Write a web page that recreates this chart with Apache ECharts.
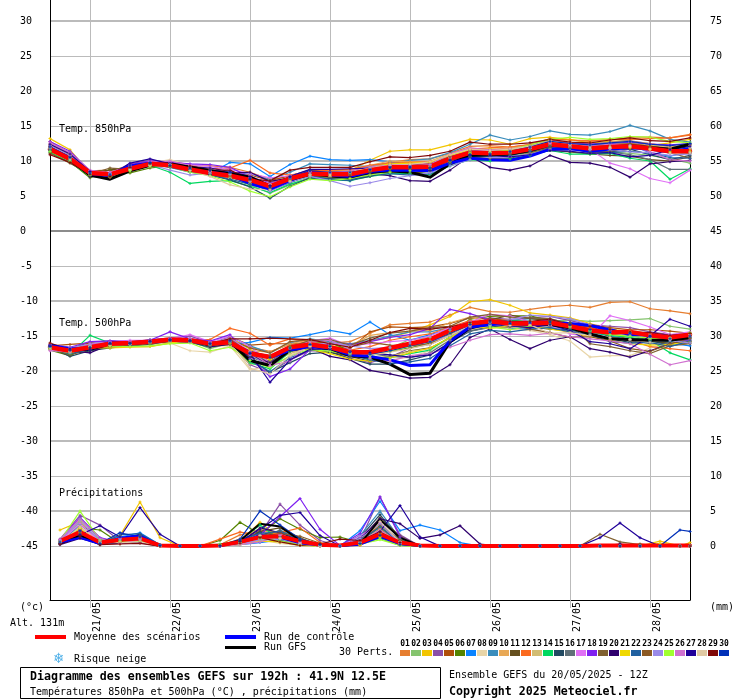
<!DOCTYPE html>
<html>
<head>
<meta charset="utf-8">
<title>Diagramme des ensembles GEFS</title>
<script src="https://cdn.jsdelivr.net/npm/echarts@6/dist/echarts.min.js"></script>
<style>
  body { margin: 0; background: #fff; }
  #main { width: 740px; height: 700px; }
</style>
</head>
<body>
<div id="main"></div>
<script>
// hours after 20/05 12Z
const hours = [0,6,12,18,24,30,36,42,48,54,60,66,72,78,84,90,96,102,108,114,120,126,132,138,144,150,156,162,168,174,180,186,192];
const precipHours = [3,9,15,21,27,33,39,45,51,57,63,69,75,81,87,93,99,105,111,117,123,129,135,141,147,153,159,165,171,177,183,189,192];
const dayTicks = [12,36,60,84,108,132,156,180];
const dayLabels = ['21/05','22/05','23/05','24/05','25/05','26/05','27/05','28/05'];
const leftTicks = [-45,-40,-35,-30,-25,-20,-15,-10,-5,0,5,10,15,20,25,30];
const rightTicks = [0,5,10,15,20,25,30,35,40,45,50,55,60,65,70,75];
const heavyTicks = [-40,-30,-20,-10,0,10,20,30];
const memberColors = ['#e67e30','#85c46e','#f2c500','#8b4fa8','#b04f0a','#558400','#0a84ff','#e8d5a8','#3a8dbc','#e8a855','#654f1e','#fb6a1f','#d2bc73','#00d85f','#224a62','#607078','#e070f5','#7f20f0','#806030','#2f006e','#f0d800','#2060a0','#8c5a24','#9a8ae8','#a0ff30','#d070d0','#20009a','#e0c9a3','#800808','#0030b8'];
const memberLabels = ['01','02','03','04','05','06','07','08','09','10','11','12','13','14','15','16','17','18','19','20','21','22','23','24','25','26','27','28','29','30'];

const mean850 = [11.7,10.3,8.3,8.1,8.9,9.6,9.4,8.8,8.3,7.9,7.3,6.4,7.5,8.2,8.1,8.1,8.7,9.1,9.1,9.2,10.3,11.2,11.1,11.2,11.7,12.4,12.1,11.8,12,12.1,11.8,11.4,11.4];
const control850 = [11.8,10.4,8.2,7.9,9.3,9.7,9.3,8.7,8.4,8,6.8,6,7.2,8.4,8,7.8,8.5,8.7,8.7,8.6,9.7,10.4,10.2,10.1,10.7,11.7,11.8,11.4,11.7,11.9,11.7,11.3,11.8];
const gfs850 = [11.8,10.2,8,7.4,8.6,9.4,9.6,9.1,8.6,8.2,7.7,6.4,7.3,8.1,7.9,7.7,8.4,8.6,8.4,7.7,9.6,10.8,10.9,11,11.5,12.3,12,11.6,12,12.2,11.9,11.7,12.4];
const t850Members = [
  [12.8,11.1,8.5,8.1,9.4,9.8,9.7,9.3,9.3,9.1,8.4,7.4,7.8,8.5,8.4,8.6,9.3,9.8,10.2,10.3,11.1,12.1,12.2,12,12.3,13.2,13,12.9,13,13.4,13.4,13.3,13.8],
  [11.8,10.4,8.1,7.9,8.8,9.4,9.5,9,8.6,7.6,6.6,5.4,6.6,7.7,7.6,7.4,8.1,8.5,8.3,8.5,9.7,10.6,10.4,10.7,11.1,11.8,11.3,11,11.3,11.1,10.8,10.3,9.7],
  [13.2,11.6,8.3,7.8,9.1,9.5,9.7,8.9,8.1,7.7,7.5,7,7.6,8,8.3,8.6,10.1,11.4,11.6,11.6,12.3,13.1,13,12.4,13.2,13.4,13.1,12.6,12.8,12.9,12.2,12.6,13.1],
  [12.3,10.8,8.4,8.2,9.6,10.1,9.9,9.2,8.5,8.5,7.4,5.9,7.3,8,7.8,8.1,8.9,9.7,9,9.6,10.7,11.6,11.5,11.8,12.1,13,12.6,12.4,12.7,12.9,12.5,12,12.3],
  [12,10.7,8.6,8.7,9,9.6,9.6,9.1,8.4,8.3,8,7.2,7.9,8.7,8.5,8.5,8.8,9.5,9.5,9.7,10.5,11.4,11.2,11.4,12.1,12.7,12.3,11.9,12.3,12.4,12.3,11.7,11.6],
  [11.2,9.9,7.6,8.8,8.3,9,9.3,8.7,8,7.6,6.7,6.2,7.3,8.1,7.9,8,8.4,8.8,8.9,9,10,11,10.9,11,11.6,12.2,12.3,12.3,12.4,12.3,12,11.4,11],
  [11.6,10.1,8.2,8,9.2,9.6,9.4,8.8,8.2,9.8,9.6,7.8,9.5,10.7,10.2,10.1,10.2,9.9,9.3,9.5,10.6,11.4,11.6,11.4,11.8,12.4,12.1,12.1,11.9,12.3,11.2,10.7,11.3],
  [11.9,10.5,8,8.2,8.6,9.7,10.2,9.4,8.5,7.5,6.8,6.2,7,8,8.2,8.4,8.8,9.1,9.2,9.3,10.5,11.3,11.2,11.3,11.8,12.3,11.9,11.6,11.8,12,11.7,11.6,11.9],
  [11.4,10,8.3,8.2,8.9,9.7,9.3,8.8,8.3,8.3,8.2,7.3,8.4,9.6,9.5,9.4,9.2,9.6,10.1,10.3,11.2,12.4,13.7,13,13.5,14.3,13.8,13.7,14.2,15.1,14.3,13.1,12.7],
  [12.1,10.6,8.3,8.2,9.1,9.6,9.4,8.9,8.6,8.1,7.6,7,7.7,8.4,8.6,8.7,9.4,10,9.9,10,11,11.8,11.7,11.8,12.2,12.8,12.6,12.2,12.7,12.8,12.5,12.1,12.2],
  [11.7,10.3,8.3,8.7,9.2,9.3,9.3,8.6,8.1,7.7,6.9,6.3,7.2,7.9,7.7,7.6,7.9,8.4,8.2,8.6,9.7,10.5,10.4,10.4,11,11.5,11.3,11,10.8,10.7,10.2,10,10.6],
  [12.2,10.8,8.4,8,8.8,9.5,9.3,9.1,8.9,9,10.1,8.3,8,8.5,8.7,8.8,9.4,9.7,9.8,9.9,10.8,11.7,11.9,12,12.4,13.1,13,12.8,13.1,13.1,13.2,13.3,13.7],
  [11.8,10.2,8.1,7.9,8.7,9.3,9.2,8.6,8.2,7.7,7.1,6.7,7.4,8,7.8,8,8.6,9,9.1,9.3,10.4,11.1,11.2,11.6,11.9,12.6,12.4,12.2,12.4,12.6,12.3,11.9,11.8],
  [11.3,9.8,7.9,7.8,8.7,9.4,8.4,6.8,7.1,7.2,6.4,5.5,6.7,7.5,7.3,7.2,7.8,8.2,8.2,8.1,9.3,10.2,10,10.3,10.8,11.5,11,11,11.1,10.4,10,7.4,8.9],
  [11.5,10.1,8.2,8.3,9.1,9.5,9.2,8.5,8,7.3,6.3,4.7,6.4,7.6,7.5,7.3,7.8,8.5,8.6,8.7,9.8,10.8,10.7,10.9,11.3,12,11.8,11.4,11.3,11.7,10.9,10.2,10.8],
  [11.9,10.6,8.4,8.3,9,9.8,9.7,9.2,8.7,8.2,7.4,6.6,7.5,8.3,8.3,8.2,8.8,9.2,9,9.4,10.2,11,10.9,11.1,11.5,12.3,12,11.8,11.3,10.9,10.2,8.8,8.8],
  [12.5,11,8.6,8.4,9.3,10,9.9,9.5,9.2,8.8,8.2,7.6,7.9,8.5,8.4,8.4,9.1,9.5,9.6,9.7,10.7,11.7,11.4,11.2,11.8,12.6,12.1,11.7,9.7,8.9,7.5,6.9,8.7],
  [12.8,11.4,8.6,8.1,9.5,10,9.8,9.6,9.5,9.1,7.7,6.9,7.4,8.4,8.1,8,8.8,9.4,9.4,9.5,10.6,11.6,11.3,11.6,12.2,12.8,12.5,12.4,12.5,12.7,12.4,12.3,12.5],
  [11.1,9.7,8.1,9,8.8,9.7,9.5,8.9,8.4,8.1,7.3,6,7.1,8.2,8.1,8,8.5,8.9,8.9,9,9.9,11,10.8,11,11.2,11.9,11.8,11.2,11.4,11.7,11.9,11.2,10.4],
  [12.1,10.7,7.8,7.6,9.1,9.8,9.6,8.8,8.1,8.3,8.4,7.1,7.6,8.3,8,7.8,8.2,7.9,7.2,7.1,8.7,10.7,9.1,8.7,9.3,10.8,9.8,9.7,9.1,7.7,9.6,9.9,10.1],
  [12.4,10.9,8.2,7.7,8.8,9.4,9.5,9.1,8.7,8,7,6.7,7.2,7.8,8,8.3,9.1,9.6,9.7,9.8,10.8,11.6,11.7,11.5,12.1,12.8,12.2,11.7,11.9,11.9,11.6,11.3,11.4],
  [11.7,10.2,8.1,8,8.8,9.6,9.1,8.4,8,7.4,6.7,5.8,6.9,7.9,7.4,7.2,8,8.2,8,8.2,9.5,10.6,10.7,10.8,11.4,12.1,11.7,11.4,11.2,11.4,11.1,10.5,10.4],
  [12,10.4,8.4,8,8.9,9.7,9.6,9,8.3,7.9,7.2,6.1,7.4,8.4,8.2,8,8.6,9.3,9.3,9.6,10.6,11.3,11.4,11.2,11.7,12.3,12.2,12.1,12.3,12.5,12.1,11.8,11.1],
  [12.2,10.8,8.3,8.1,9,9.5,8.7,8,8.3,8.1,7.1,5.7,7,7.8,7.2,6.4,6.9,7.5,7.9,8.3,9.3,10.2,10.5,10.6,11,11.6,11.5,11.6,11.7,11.3,11.2,10.8,11],
  [11.4,10,8,7.8,8.6,9.3,9.2,8.4,7.9,7,5.7,4.9,6.3,7.4,7.2,7.5,8,8.4,8.6,8.8,10,11.1,11.3,11.6,12.3,13.1,13.4,13.1,13.2,13.5,13.4,12.8,12.6],
  [12.6,11.2,8.7,8.2,9.3,9.9,10,9.4,8.6,8.5,7.9,6.7,7.6,8.3,8.3,8.6,9.2,9.4,9.3,9.5,11,11.9,11.6,11.7,12,12.5,12.3,12.2,12.4,12.2,11.3,10.2,10],
  [12.4,11,8.5,7.9,9.7,10.3,9.6,9.2,9,8.5,7.8,6.5,7.8,8.8,8.8,8.9,9,9.1,9.1,8.7,10.1,10.9,10.8,10.6,10.9,11.5,11.4,11.1,11.2,10.6,10.8,11.6,12.1],
  [11.9,10.3,8.2,8.1,8.8,9.4,9.5,8.7,7.8,6.6,6,5.9,7.1,8,8,8.4,9,9.4,9.5,9.9,10.9,11.7,11.5,11.7,12.1,12.9,12.4,12,12,12.1,11.7,11.1,11.2],
  [10.9,9.8,8.1,7.8,9.1,9.6,9.3,9.3,8.7,8.7,7.4,7.2,8.7,9.1,9.1,9.1,9.9,10.6,10.5,10.8,11.4,12.7,12.4,12.4,12.6,13.1,12.7,12.6,13,13.3,12.9,12.8,13.3],
  [12,10.5,8.3,8.1,9.4,9.8,9.4,9,8.7,8.4,7.5,6.3,7.7,8.6,8.4,8.4,8.8,9.1,9.2,9,10.1,10.9,11,11.4,12,12.8,12.5,12.3,12.6,12.8,12.4,12.2,12.5]
];

const mean500 = [-16.6,-17.1,-16.6,-16.1,-16,-15.8,-15.5,-15.6,-16.1,-15.9,-17.5,-18,-16.6,-16.2,-16.6,-17.3,-17.3,-16.7,-16.1,-15.5,-14.2,-13.2,-12.9,-13.2,-13.2,-13.1,-13.6,-14.2,-14.5,-14.4,-14.9,-15.2,-14.8];
const control500 = [-16.4,-16.8,-16.8,-15.9,-16,-15.7,-15.5,-15.6,-16,-16,-17.3,-18.1,-17,-16.5,-16.7,-17.7,-17.9,-18.4,-19.2,-19.1,-15.7,-13.7,-13.4,-13.1,-13.4,-13.2,-13.2,-13.5,-14.1,-14.8,-14.8,-15.1,-14.8];
const gfs500 = [-16.3,-17,-16.9,-16.1,-16.1,-15.8,-15.6,-15.7,-16.2,-15.8,-18.5,-19.2,-17,-16.4,-16.8,-17.8,-18,-19,-20.5,-20.3,-15.8,-13.8,-13.2,-13.2,-13.3,-13.3,-13.8,-14.7,-15.4,-15.5,-15.6,-15.6,-15.2];
const t500Members = [
  [-16.5,-17.2,-16.6,-16,-16.1,-15.6,-15.4,-15.5,-16,-15.4,-16.6,-17.2,-16.2,-15.8,-16,-15.8,-14.6,-13.4,-13.2,-13,-12,-10.9,-11.5,-11.6,-11.2,-10.8,-10.6,-10.9,-10.2,-10.1,-11.1,-11.4,-11.8],
  [-16.8,-17.4,-16,-16.2,-16.2,-16.1,-15.7,-15.7,-16.8,-16,-17.8,-18.8,-17.2,-16.5,-17,-17.8,-17.7,-16.7,-15.5,-15.2,-14.2,-13.2,-12.8,-13.2,-13,-12.9,-12.7,-12.9,-12.8,-12.7,-12.5,-13.6,-14],
  [-16.7,-17,-16.2,-16.4,-16.3,-16.2,-15.8,-15.5,-16.2,-15.2,-16.9,-18.2,-16.6,-16.1,-16.4,-16.5,-15.7,-15.2,-14.4,-13.4,-12.2,-10.1,-9.8,-10.6,-11.7,-12,-12.4,-13.2,-14,-14.4,-14.9,-15.4,-15.7],
  [-16.2,-16.8,-15.9,-15.7,-15.9,-15.5,-15.3,-15,-15.9,-15.7,-19.1,-20.2,-18.4,-17.1,-17.2,-18.2,-18.8,-18,-16.7,-16.2,-14.9,-13.4,-12.4,-12.6,-12.4,-12.2,-12.8,-13.4,-13.6,-13.8,-14.4,-14.8,-15.1],
  [-16.4,-16.2,-16,-16.3,-16.2,-15.9,-15.7,-15.9,-16.3,-15.1,-16.3,-16.1,-16.1,-16.3,-16.5,-16.8,-14.4,-13.7,-13.8,-13.7,-13.2,-12.4,-12.5,-12.8,-13.1,-13,-13.2,-13.4,-13.8,-14.1,-14.1,-14.3,-14.6],
  [-17,-17.8,-16.4,-16.3,-16.1,-16,-15.8,-15.8,-16.2,-15.8,-18,-18.9,-16.5,-15.8,-15.9,-17.1,-17.6,-17.2,-16.7,-16,-14.7,-12.6,-12.2,-12.1,-12.1,-12.8,-13.4,-13.8,-14.2,-14.5,-15,-15.4,-15.7],
  [-16.6,-17.2,-16.1,-15.9,-16.1,-15.6,-15.5,-15.8,-15.9,-16.2,-15.9,-15.2,-15.3,-14.8,-14.2,-14.7,-13,-14.8,-15.6,-14.8,-14,-13.4,-13.7,-13.9,-14,-13.8,-14.2,-14.4,-15,-15.5,-15.8,-16,-16.4],
  [-16.9,-17.5,-16.6,-16.2,-16.2,-16.1,-16,-17.1,-17.3,-16.4,-19.8,-19.4,-17.4,-16.7,-16.6,-17.6,-18.4,-18.4,-18,-17.1,-15.6,-14,-13.3,-14,-14.2,-14.8,-15.7,-18,-17.8,-17.8,-16.7,-16.1,-15.9],
  [-16.4,-17,-16.4,-16.2,-16.4,-15.9,-15.7,-15.7,-16.1,-15.1,-16.4,-17.4,-16,-15.4,-15.8,-16.1,-15.6,-15,-14.4,-14.4,-13.8,-12.9,-13,-12.8,-12.5,-12.6,-13.1,-14.2,-14.8,-14.9,-15.6,-15.8,-15.2],
  [-16.1,-16.8,-16.7,-16.3,-16.4,-15.8,-15.6,-15.4,-15.8,-15.7,-17.1,-17.3,-16.1,-15.5,-16,-16.4,-14.9,-14.5,-14.3,-14.2,-13.1,-12.3,-13,-13.4,-13.5,-13.4,-13.7,-14.3,-14.5,-14.3,-14.7,-15.3,-14.8],
  [-16.7,-17.6,-17.1,-16.5,-16.1,-15.8,-15.5,-15.6,-16.3,-15.8,-17.8,-18.6,-17.2,-16.8,-17.3,-17.9,-18.6,-17.9,-17.1,-16.7,-15.3,-13.8,-12.7,-12,-12.5,-12.8,-13.1,-14,-15.1,-15.7,-15.8,-16,-16],
  [-16.5,-16.9,-16.4,-16,-16.1,-15.7,-15.6,-15.5,-15.5,-13.9,-14.6,-16.3,-15.4,-15.8,-16.5,-17,-16.5,-15.6,-15.1,-14.7,-13.7,-12.8,-13,-12.9,-13.1,-13.5,-13.4,-13.8,-14.5,-15.6,-16.5,-16.8,-17.1],
  [-16.8,-17.4,-16.4,-16.6,-16.5,-16.5,-15.9,-15.8,-16.5,-16.3,-19,-18.9,-17.5,-16.6,-16.5,-17.3,-18.1,-17.9,-17.2,-16.8,-15.3,-14.1,-13.5,-13.8,-13.5,-13.5,-13.7,-14.8,-15.5,-15.4,-15.5,-15.2,-15.1],
  [-16.9,-17.6,-14.9,-16,-15.9,-15.7,-15.5,-15.7,-16.4,-15.9,-18.8,-19.7,-17.2,-16.2,-16.4,-17.5,-18.3,-18.1,-17.5,-17,-15.1,-13.1,-13.4,-12.8,-12.9,-13.3,-14,-14.4,-14.9,-15.2,-15.6,-17.4,-18.4],
  [-16.6,-17.9,-17.1,-16.7,-16.4,-16.2,-15.7,-15.9,-16.6,-16.1,-18.3,-20.2,-18.8,-17.5,-17.3,-18.2,-19,-19,-18.4,-17.7,-15.9,-14.3,-13.7,-13.4,-13.7,-14,-14.2,-14.6,-15.4,-15.9,-15.7,-16.3,-15.3],
  [-16.3,-16.7,-16.3,-16.2,-16,-15.8,-15.6,-15.5,-16.2,-15.7,-17.6,-18.6,-16.8,-16.4,-16.8,-17.2,-17.5,-17.9,-18.1,-17.4,-15.6,-14.3,-13.8,-13.7,-13.4,-13.6,-13.9,-14.7,-15.3,-15.6,-16.1,-16.2,-15.5],
  [-17.1,-17.2,-16.3,-15.8,-15.6,-15.6,-15.4,-14.8,-15.8,-15,-16.5,-18.9,-16.8,-15.7,-15.3,-16.4,-16.1,-15.8,-15.6,-15,-13.8,-13,-11.9,-12.1,-13,-13.5,-14.7,-15.1,-12.1,-12.8,-13.7,-14.8,-14.4],
  [-16.2,-16.6,-15.8,-15.7,-15.8,-15.6,-14.4,-15.4,-15.7,-14.8,-18.2,-20.8,-19.7,-16.9,-16.1,-16.2,-15.8,-15.2,-14.8,-13.9,-11.2,-11.8,-12.7,-13,-13.2,-12.6,-13.4,-14.1,-14.3,-14.7,-15,-15.5,-15.6],
  [-16.8,-17.7,-16.6,-16.3,-16.4,-16,-15.8,-15.8,-16.1,-15.4,-17.3,-17.8,-16.6,-15.6,-15.5,-16.3,-15.3,-14.6,-14.3,-13.8,-13.6,-12.3,-11.9,-12.3,-12.4,-12.5,-13.3,-16.1,-16.5,-17.1,-17.5,-16.4,-16.1],
  [-16.4,-17.1,-17.4,-16.2,-15.9,-15.7,-15.4,-15.5,-16.5,-16.2,-17.9,-18.8,-17.1,-16.7,-17.9,-18.4,-19.9,-20.4,-21,-20.9,-19.1,-15.2,-14,-15.5,-16.8,-15.6,-15.1,-16.8,-17.3,-18,-17.1,-16.1,-15.8],
  [-16.9,-17.2,-16.7,-16.7,-16.6,-16.5,-16,-15.5,-16.3,-16.1,-17.3,-18.4,-16.7,-16.9,-17.5,-18.3,-18.6,-18.1,-17.4,-16.7,-15.2,-13.6,-13.9,-13.6,-13.5,-14,-14.4,-15.1,-15.6,-16.1,-16.3,-16.2,-15.8],
  [-16.7,-17.5,-16.9,-16.1,-16.3,-15.9,-15.7,-15.8,-16.3,-15.9,-18.4,-20.1,-18.1,-17,-16.9,-17.7,-18.4,-18.9,-18.7,-18.2,-16.4,-14.7,-14.2,-14.4,-14,-13.8,-14.4,-14.8,-15.8,-16,-15.9,-16.5,-15.7],
  [-16.5,-17.3,-16.8,-16.4,-16.2,-16,-15.6,-15.7,-16,-15.5,-16.7,-17.4,-15.8,-15.5,-16,-16.6,-15.9,-16.3,-16.4,-16.1,-14.8,-13.7,-13.1,-13.3,-14,-14.5,-15.2,-15.1,-15.7,-16.8,-17.2,-16.1,-15.3],
  [-16.3,-16.7,-16.2,-16.1,-16,-15.7,-15.6,-15.6,-16,-15.6,-17.7,-19.3,-18,-16.3,-15.9,-16.4,-16.8,-16.6,-16,-15.8,-14.9,-13.7,-13.5,-12.7,-12,-12.2,-12.5,-13.4,-14.2,-14.6,-15.2,-15.6,-16],
  [-16.8,-17.4,-16.5,-16.4,-16.5,-16.4,-16.1,-16,-17.1,-16.6,-18.5,-19.5,-17.8,-16.9,-17.2,-17.5,-17.8,-17.2,-16.4,-15.7,-14.6,-13.2,-13.7,-14.1,-13.6,-13.4,-13.6,-14.2,-14.8,-15,-15.3,-15.4,-14.5],
  [-17,-17.3,-16.1,-15.9,-15.8,-15.7,-15.4,-15.4,-16.1,-15.2,-17.2,-19.2,-18.6,-15.9,-15.6,-16.9,-18.2,-18.6,-17.8,-17.5,-16.6,-15.6,-14.8,-14.7,-14.9,-14.6,-15.1,-15.4,-15.7,-16.1,-17.6,-19.1,-18.5],
  [-16.4,-16.8,-17,-16.1,-16.1,-15.8,-15.5,-15.6,-16.2,-15.6,-17.5,-21.6,-18.4,-16.9,-16.8,-17.2,-17.4,-17.7,-18,-17.7,-16,-14,-13.2,-13.6,-13.8,-13.4,-14.2,-15.8,-16.1,-16.8,-15,-12.6,-13.6],
  [-16.6,-17.1,-16.5,-16.3,-16.2,-15.9,-15.7,-15.9,-16.2,-15.8,-19.6,-20.4,-17.8,-16.5,-16.6,-17.4,-17.7,-17.3,-16.8,-16.2,-14.9,-13.5,-13.1,-13.5,-13.4,-14.6,-14.5,-14.9,-15.2,-15.5,-15.9,-15.5,-14.8],
  [-16,-17,-16.7,-16.1,-16,-15.7,-15.6,-15.7,-16.1,-15.4,-15.4,-15.3,-15.4,-15.5,-16.1,-16.6,-15.6,-14.5,-13.9,-14,-13.7,-13.1,-12.8,-12.9,-12.9,-12.6,-13.4,-13.6,-14.1,-14.4,-14.5,-14.9,-14.6],
  [-16.5,-17,-16.6,-16,-16.1,-15.8,-15.6,-15.7,-16.1,-15.7,-17.4,-18.1,-16.7,-16.2,-16.5,-17.3,-17.6,-17.1,-16.4,-15.8,-14.6,-13.4,-13,-13.2,-13.1,-13,-13.4,-14.1,-14.5,-14.6,-15.1,-15.4,-15]
];

const meanPrecip = [0.7,2,0.5,0.9,1.1,0.1,0,0,0.1,0.6,1.3,1.4,0.7,0.2,0.1,0.5,1.7,0.5,0.1,0,0,0,0,0,0,0,0,0.1,0.1,0.1,0.1,0.1,0.1];
const controlPrecip = [0.5,1.2,0.3,1.2,1.5,0.1,0,0,0,0.5,1.6,1.2,0.4,0.1,0,0.2,1.3,0.3,0,0,0,0,0,0,0,0,0,0,0,0,0,0,0];
const gfsPrecip = [0.4,1.5,0.4,0.8,1.2,0,0,0,0,0.8,3.2,2.8,0.8,0.1,0,0.3,3.8,1.2,0,0,0,0,0,0,0,0,0,0,0,0,0,0,0];
const precipMembers = [
  [0.9,2.8,0.4,0.6,0.5,0,0,0,0.2,1.6,2.2,2,0.6,0.1,0,0.1,2.4,0.5,0,0,0,0,0,0,0,0,0,0,0,0,0,0,0],
  [0.5,3.4,0.6,1.2,1.4,0.1,0,0,0,0.3,0.8,1.2,0.4,0,0,0.5,1.8,0.3,0,0,0,0,0,0,0,0,0,0,0,0,0,0,0],
  [2.3,3.5,0.5,1.5,6.3,1.2,0,0,0,0.6,3.4,1.1,0.3,0,0,0.2,1.4,0.2,0,0,0,0,0,0,0,0,0,0,0,0,0.7,0,0.5],
  [1,4.4,3,0.7,0.9,0,0,0,0,0.4,1.7,6,3,0.8,0,0.8,7,1.6,0,0,0,0,0,0,0,0,0,0,0,0,0,0,0],
  [0.6,2.4,0.8,0.5,1.1,0,0,0,0.1,0.9,1.4,1.9,1,0.3,0,0.6,2.5,0.9,0,0,0,0,0,0,0,0,0,0,0,0,0,0,0],
  [0.4,2.6,2.3,0.4,0.8,0,0,0,0.8,3.4,1.7,3.9,2.4,1.2,1.3,0.5,2.8,0.6,0,0,0,0,0,0,0,0,0,0.1,0,0.2,0,0,0],
  [0.6,2.1,0.5,1.3,1.9,0.2,0,0,0,0.2,0.5,0.9,0.2,0,0,2.2,6.4,2.2,3,2.3,0.5,0,0,0,0,0,0,0,0,0,0,0,0],
  [0.8,2.9,0.7,0.3,0.7,0,0,0,0,0.2,0.9,0.4,0.1,0,0,0.9,2.2,0.2,0,0,0,0,0,0,0,0,0,0,0,0,0,0,0],
  [0.3,3.1,0.9,0.9,1.3,0,0,0,0,0.4,1,2.3,1.1,0.2,0,1.5,5,1,0,0,0,0,0,0,0,0,0,0,0,0,0,0,0],
  [0.7,1.9,0.3,0.6,0.8,0,0,0,0.1,1,2.5,1.5,0.7,0.1,0,0.4,3.3,0.5,0,0,0,0,0,0,0,0,0,0,0,0,0,0,0],
  [0.4,1.5,0.4,0.5,1,0,0,0,0,0.7,2.1,2.6,1.2,0,0,0.7,4.1,1.4,0,0,0,0,0,0,0,0,0,0,0,0,0,0,0],
  [0.5,2.2,0.3,0.7,1.2,0.1,0,0,1,2,1.6,1.9,2.6,0.5,0,0.2,1.9,0.3,0,0,0,0,0,0,0,0,0,0.1,0,0,0,0,0],
  [0.6,3.7,0.6,0.4,0.6,0,0,0,0,0.5,1.5,1.3,0.5,0,0,0.3,2.6,0.7,0,0,0,0,0,0,0,0,0,0,0,0,0,0,0],
  [0.8,4,1,0.8,1,0,0,0,0.3,0.8,3,0.9,0.3,0,0,0.3,1.1,0.1,0,0,0,0,0,0,0,0,0,0,0,0,0,0,0],
  [0.3,1.3,0.2,1,1.7,0.1,0,0,0,0.6,2,1.4,0.6,0.1,0,1.2,4.5,0.8,0,0,0,0,0,0,0,0,0,0,0,0,0,0,0],
  [0.5,2.3,0.5,0.6,0.9,0,0,0,0,0.3,1.2,0.8,0.2,0,0,0.4,2,0.4,0,0,0,0,0,0,0,0,0,0,0,0,0,0,0],
  [0.7,3.2,0.6,1.1,1.2,0,0,0,0,0.4,1,1.7,0.5,0,0,1.4,3.4,0.6,0,0,0,0,0,0,0,0,0,0,0,0,0,0,0],
  [0.9,4.1,1.2,0.5,0.5,0,0,0,0,0.5,1.6,4.2,6.8,2.4,0.1,1.8,7,1.3,0,0,0,0,0,0,0,0,0,0,0,0,0,0,0],
  [0.4,1.8,0.4,0.8,1.4,0,0,0,0,0.7,1.4,2.2,0.9,0.2,0,0.5,3,0.9,0,0,0,0,0,0,0.1,0,0,1.7,0.6,0.2,0,0,0],
  [0.2,1.1,0.3,0.4,0.6,0,0,0,0,0.4,2.6,1.9,0.8,0,0,1,3.9,3.2,1.1,1.6,2.9,0.3,0,0,0,0,0,0,0.3,0,0,0,0],
  [0.6,2.5,0.4,0.7,1.1,0,0,0,0,0.2,0.7,0.6,0.1,0,0,0.2,1.2,0.1,0,0,0,0,0,0,0,0,0,0,0,0,0.4,0,0],
  [0.5,1.7,0.3,1.6,1.8,0.2,0,0,0,0.9,1.8,2.1,0.9,0.1,0,0.8,2.7,0.5,0,0,0,0,0,0,0,0,0,0,0,0,0,0,0],
  [0.3,2,0.7,0.5,0.8,0,0,0,0,0.6,1.3,1.8,1.4,0.4,0,0.3,1.6,0.2,0,0,0,0,0,0,0,0,0,0,0,0.3,0,0,0],
  [0.8,3.6,0.8,0.9,1,0,0,0,0,0.3,0.9,1,0.3,0,0,1.1,3.2,0.4,0,0,0,0,0,0,0,0,0,0,0,0,0,0,0],
  [0.7,5,0.9,0.6,0.7,0,0,0,0.2,0.5,1.1,0.7,0.2,0,0,0.3,0.9,0.1,0,0,0,0,0,0,0,0,0,0,0,0,0,0,0],
  [0.9,3.9,1.1,0.4,0.9,0,0,0,0,0.2,0.6,1.5,0.4,0,0,0.6,2.3,0.3,0,0,0,0,0,0,0,0,0,0,0,0,0,0,0],
  [0.4,1.6,2.9,1.3,5.5,1.7,0,0,0,0.7,2.4,4.4,4.8,1.5,0,0.4,2.1,5.8,1.3,0,0,0,0,0,0,0,0,1.2,3.3,1.2,0,0,0],
  [0.5,2.7,0.5,0.5,0.6,0,0,0,0,0.3,1.5,1.1,0.3,0,0,0.5,3.5,0.6,0,0,0,0,0,0,0,0,0,0,0,0,0,0,0],
  [0.3,1.4,0.2,0.3,0.4,0,0,0,0.1,0.4,1.2,0.6,0.1,0.3,1,0.8,2,0.5,0,0,0,0,0,0,0,0,0,0,0,0,0,0,0],
  [0.6,2.2,0.4,1.9,1.3,0.1,0,0,0,1,5,3,1,0.2,0,0.4,1.5,0.2,0,0,0,0,0,0,0,0,0,0,0,0,0,2.3,2.1]
];

const monoFont = '"DejaVu Sans Mono", "Liberation Mono", monospace';
const plusSymbol = 'path://M-1 -3H1V-1H3V1H1V3H-1V1H-3V-1H-1Z';

function lineSeries(name, xs, values, color, width, axisIndex, withMarker) {
  return {
    name: name,
    type: 'line',
    yAxisIndex: axisIndex,
    data: xs.map((h, i) => [h, values[i]]),
    showSymbol: withMarker,
    symbol: withMarker ? plusSymbol : 'none',
    symbolSize: 3,
    itemStyle: { color: color },
    lineStyle: { color: color, width: width, cap: 'round', join: 'round' },
    emphasis: { disabled: true },
    silent: true,
    animation: false
  };
}

function label(x, y, text, opts) {
  return {
    type: 'text',
    x: x,
    y: y,
    z: 100,
    style: Object.assign({
      text: text,
      fill: '#000',
      font: '10px ' + monoFont,
      textVerticalAlign: 'middle'
    }, opts || {})
  };
}

function bar(x, y, w, h, color) {
  return { type: 'rect', z: 100, shape: { x: x, y: y, width: w, height: h }, style: { fill: color } };
}

const series = [];
t850Members.forEach((vals, i) => series.push(lineSeries('t850-' + memberLabels[i], hours, vals, memberColors[i], 1.2, 0, true)));
t500Members.forEach((vals, i) => series.push(lineSeries('t500-' + memberLabels[i], hours, vals, memberColors[i], 1.2, 0, true)));
precipMembers.forEach((vals, i) => series.push(lineSeries('precip-' + memberLabels[i], precipHours, vals, memberColors[i], 1.2, 1, true)));
series.push(lineSeries('gfs850', hours, gfs850, '#000', 3, 0, false));
series.push(lineSeries('gfs500', hours, gfs500, '#000', 3, 0, false));
series.push(lineSeries('gfsPrecip', precipHours, gfsPrecip, '#000', 2, 1, false));
series.push(lineSeries('control850', hours, control850, '#0000ff', 3, 0, false));
series.push(lineSeries('control500', hours, control500, '#0000ff', 3, 0, false));
series.push(lineSeries('controlPrecip', precipHours, controlPrecip, '#0000ff', 2, 1, false));
series.push(lineSeries('mean850', hours, mean850, '#ff0000', 4.5, 0, false));
series.push(lineSeries('mean500', hours, mean500, '#ff0000', 4.5, 0, false));
series.push(lineSeries('meanPrecip', precipHours, meanPrecip, '#ff0000', 4, 1, false));

// everything around the plot
const graphics = [
  label(59, 129, 'Temp. 850hPa'),
  label(59, 323, 'Temp. 500hPa'),
  label(59, 493, 'Précipitations'),
  label(20, 607, '(°c)'),
  label(710, 607, '(mm)'),
  label(10, 623, 'Alt. 131m'),
  bar(35, 635, 31, 4, '#ff0000'),
  label(74, 637, 'Moyenne des scénarios'),
  bar(225, 635, 31, 4, '#0000ff'),
  label(264, 637, 'Run de contrôle'),
  bar(225, 646, 31, 3, '#000'),
  label(264, 647, 'Run GFS'),
  label(53, 659, '❄', { fill: '#4fb0e8', font: 'bold 14px "DejaVu Sans"' }),
  label(74, 659, 'Risque neige'),
  label(339, 652, '30 Perts.'),
  {
    type: 'rect',
    z: 100,
    shape: { x: 20.5, y: 667.5, width: 420, height: 31 },
    style: { fill: 'none', stroke: '#000', lineWidth: 1 }
  },
  label(30, 677, 'Diagramme des ensembles GEFS sur 192h : 41.9N 12.5E', { font: 'bold 11.6px ' + monoFont }),
  label(30, 692, 'Températures 850hPa et 500hPa (°C) , précipitations (mm)'),
  label(449, 675, 'Ensemble GEFS du 20/05/2025 - 12Z'),
  label(449, 692, 'Copyright 2025 Meteociel.fr', { font: 'bold 11.6px ' + monoFont })
];
memberLabels.forEach((txt, i) => {
  graphics.push(label(405 + 11 * i, 644, txt, { font: 'bold 8px ' + monoFont, textAlign: 'center' }));
  graphics.push(bar(400 + 11 * i, 650, 10, 6, memberColors[i]));
});

const myChart = echarts.init(document.getElementById('main'), null, { renderer: 'canvas' });

const option = {
  animation: false,
  backgroundColor: '#fff',
  grid: { left: 50, right: 50, top: 0, bottom: 100 },
  xAxis: {
    type: 'value',
    min: 0,
    max: 192,
    axisLine: { onZero: false, lineStyle: { color: '#000', width: 1 } },
    axisTick: { customValues: dayTicks, length: 8, lineStyle: { color: '#bbb' } },
    axisLabel: {
      customValues: dayTicks,
      rotate: 90,
      margin: 2,
      verticalAlign: 'top',
      lineHeight: 14,
      color: '#000',
      fontFamily: monoFont,
      fontSize: 10,
      formatter: (v) => dayLabels[dayTicks.indexOf(v)]
    },
    splitLine: { show: true, lineStyle: { color: '#bbb', width: 1 } }
  },
  yAxis: [
    {
      type: 'value',
      position: 'left',
      min: -52.7,
      max: 33,
      axisLine: { show: true, lineStyle: { color: '#000', width: 1 } },
      axisTick: { show: false, customValues: leftTicks },
      axisLabel: { customValues: leftTicks, margin: 30, align: 'left', padding: [4, 0, 0, 0], color: '#000', fontFamily: monoFont, fontSize: 10 },
      splitLine: { show: true, lineStyle: { color: '#bbb', width: 1 } }
    },
    {
      type: 'value',
      position: 'right',
      min: -7.7,
      max: 78,
      axisLine: { show: true, lineStyle: { color: '#000', width: 1 } },
      axisTick: { show: false, customValues: rightTicks },
      axisLabel: { customValues: rightTicks, margin: 20, align: 'left', padding: [4, 0, 0, 0], color: '#000', fontFamily: monoFont, fontSize: 10 },
      splitLine: { show: false }
    },
    {
      // heavier lines every 10 degrees, darker at zero
      type: 'value',
      position: 'left',
      min: -52.7,
      max: 33,
      axisLine: { show: false },
      axisTick: { show: false, customValues: heavyTicks },
      axisLabel: { show: false },
      splitLine: {
        show: true,
        lineStyle: { color: ['#bbb', '#bbb', '#bbb', '#bbb', '#8c8c8c', '#bbb', '#bbb', '#bbb'], width: 2 }
      }
    }
  ],
  graphic: graphics,
  series: series
};

myChart.setOption(option);
</script>
</body>
</html>
